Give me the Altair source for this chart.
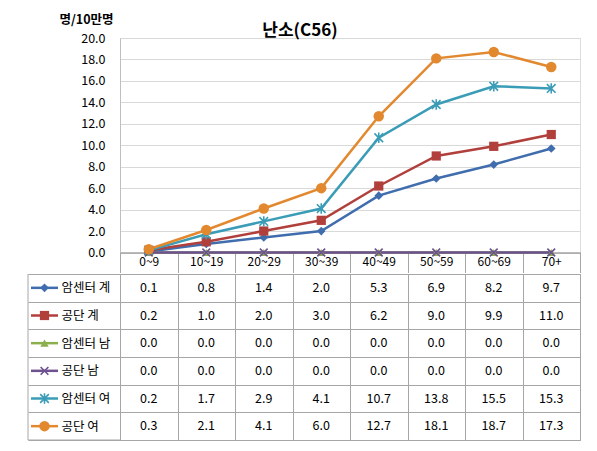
import altair as alt
import pandas as pd

title_text = ["난소(C56)"]
y_title = "명/10만명"
categories = ["0~9", "10~19", "20~29", "30~39", "40~49", "50~59", "60~69", "70+"]
series_names = ["암센터 계", "공단 계", "암센터 남", "공단 남", "암센터 여", "공단 여"]

ncc_total = [0.1, 0.8, 1.4, 2.0, 5.3, 6.9, 8.2, 9.7]
nhis_total = [0.2, 1.0, 2.0, 3.0, 6.2, 9.0, 9.9, 11.0]
ncc_male = [0.0, 0.0, 0.0, 0.0, 0.0, 0.0, 0.0, 0.0]
nhis_male = [0.0, 0.0, 0.0, 0.0, 0.0, 0.0, 0.0, 0.0]
ncc_female = [0.2, 1.7, 2.9, 4.1, 10.7, 13.8, 15.5, 15.3]
nhis_female = [0.3, 2.1, 4.1, 6.0, 12.7, 18.1, 18.7, 17.3]
y_ticks = [0, 2, 4, 6, 8, 10, 12, 14, 16, 18, 20]

colors = ["#3F6DAD", "#B13F3C", "#8BAF4C", "#6D5191", "#3A9CB6", "#E2892F"]
X_PATH = "M-1,-1L1,1M-1,1L1,-1"
STAR_PATH = "M-1,-1L1,1M-1,1L1,-1M0,-1.2L0,1.2"
shapes = ["diamond", "square", "triangle-up", X_PATH, STAR_PATH, "circle"]
sizes = [75, 85, 70, 60, 75, 110]
filled = [True, True, True, False, False, True]

all_values = [ncc_total, nhis_total, ncc_male, nhis_male, ncc_female, nhis_female]
rows = []
for name, vals in zip(series_names, all_values):
    for cat, v in zip(categories, vals):
        rows.append({"series": name, "age": cat, "value": v})
df = pd.DataFrame(rows)
legend_df = pd.DataFrame({"series": series_names})

FONT = "Noto Sans CJK KR"
W = 460
H_TOP = 214.5
H_TBL = 166
GRID = "#A6A6A6"

color_enc = alt.Color("series:N", sort=series_names,
                      scale=alt.Scale(domain=series_names, range=colors), legend=None)
band = alt.Scale(type="band", paddingInner=0, paddingOuter=0)

x_top = alt.X("age:N", sort=categories, scale=band, bandPosition=0.5,
              axis=alt.Axis(title=None, labelAngle=0, labelFontSize=12, labelColor="#000000",
                            labelFont=FONT, tickBand="extent", tickSize=20, tickColor=GRID,
                            domainColor="#868686", labelPadding=-16, grid=False,
                            minExtent=20, maxExtent=20))
y_top = alt.Y("value:Q", scale=alt.Scale(domain=[0, 20]),
              axis=alt.Axis(values=y_ticks, format=".1f", title=y_title, titleAngle=0,
                            titleX=-34, titleY=-19, titleAlign="center", titleBaseline="middle",
                            titleFontSize=12.5, titleFontWeight="bold", titleFont=FONT,
                            titleColor="#000000", labelPadding=15, ticks=False,
                            gridColor="#D9D9D9", domainColor="#BFBFBF", labelFontSize=12.5,
                            labelFont=FONT, labelColor="#000000"))

base = alt.Chart(df).encode(x=x_top, y=y_top, color=color_enc)
layers = [base.mark_line(strokeWidth=2.5)]
for name, shp, sz, fl in zip(series_names, shapes, sizes, filled):
    sub = base.transform_filter(alt.datum.series == name)
    if fl:
        layers.append(sub.mark_point(shape=shp, size=sz, filled=True, opacity=1))
    else:
        layers.append(sub.mark_point(shape=shp, size=sz, filled=False, strokeWidth=1.6, opacity=1))

title_layer = alt.Chart(pd.DataFrame({"t": title_text})).mark_text(
    fontSize=17, fontWeight="bold", font=FONT, color="#000000", baseline="middle"
).encode(text="t:N", x=alt.value(180), y=alt.value(-7))
layers.append(title_layer)

top = alt.layer(*layers).properties(width=W, height=H_TOP)

# table
x_tbl_axis = alt.Axis(title=None, labels=False, ticks=False, domain=False, grid=True,
                      tickBand="extent", gridColor=GRID)
y_tbl_axis = alt.Axis(title=None, labelAlign="left", labelBaseline="middle",
                      labelPadding=-33, tickSize=92, tickBand="extent", tickColor=GRID,
                      domain=False, grid=True, gridColor=GRID, labelFontSize=12.5,
                      labelFont=FONT, labelColor="#000000")

cells = alt.Chart(df).mark_text(fontSize=12.5, font=FONT, color="#000000").encode(
    x=alt.X("age:N", sort=categories, scale=band, bandPosition=0.5, axis=x_tbl_axis),
    y=alt.Y("series:N", sort=series_names, scale=band, bandPosition=0.5, axis=y_tbl_axis),
    text=alt.Text("value:Q", format=".1f"),
)

lg_y = alt.Y("series:N", sort=series_names, scale=band, bandPosition=0.5)
lg_layers = [
    alt.Chart(legend_df).mark_rule(strokeWidth=2.5).encode(
        x=alt.value(-89), x2=alt.value(-62), y=lg_y, color=color_enc)
]
for name, shp, sz, fl in zip(series_names, shapes, sizes, filled):
    sub = alt.Chart(legend_df).transform_filter(alt.datum.series == name)
    if fl:
        m = sub.mark_point(shape=shp, size=sz, filled=True, opacity=1)
    else:
        m = sub.mark_point(shape=shp, size=sz, filled=False, strokeWidth=1.6, opacity=1)
    lg_layers.append(m.encode(x=alt.value(-75.5), y=lg_y, color=color_enc))

frame_df = pd.DataFrame({"k": [0]})
border_left = alt.Chart(frame_df).mark_rule(color=GRID).encode(
    x=alt.value(-92), y=alt.value(0), y2=alt.value(H_TBL))
border_bottom = alt.Chart(frame_df).mark_rule(color=GRID).encode(
    x=alt.value(-92), x2=alt.value(0), y=alt.value(H_TBL))

table = alt.layer(cells, *lg_layers, border_left, border_bottom).properties(
    width=W, height=H_TBL, view=alt.ViewBackground(stroke=GRID))

chart = alt.vconcat(top, table, spacing=-10).properties(
    padding={"left": 19, "top": 4, "right": 5, "bottom": 5}
).configure_view(stroke=None).configure(font=FONT, background="white")

chart.save("out.html", embed_options={"renderer": "svg", "actions": False})
